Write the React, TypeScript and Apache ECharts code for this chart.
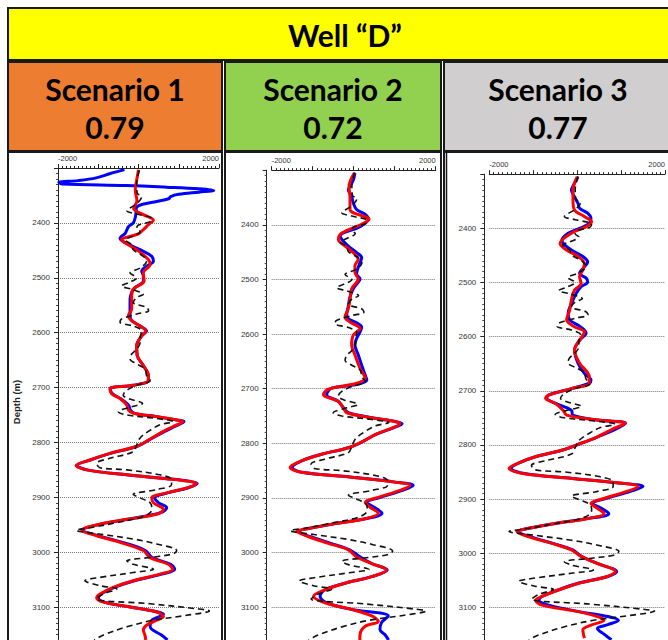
import React, { useEffect, useRef } from "react";
import * as echarts from "echarts";

// ---- Data: [depth (m), value] ----
const scenarioNames = ["Scenario 1", "Scenario 2", "Scenario 3"];
const scenarioScores = ["0.79", "0.72", "0.77"];
const xTickLabels = [-2000, 2000];
const depthLabels = [2400, 2500, 2600, 2700, 2800, 2900, 3000, 3100];

const observed: number[][] = [
  [2304, 20], [2328, -45], [2346, -30], [2352, 80], [2365, -45], [2378, -290], [2384, -45], [2392, 330],
  [2398, 290], [2404, 0], [2410, -45], [2416, 40], [2425, -170], [2431, -330], [2440, -170], [2449, -130],
  [2461, 120], [2470, 200], [2482, 40], [2491, -210], [2500, -45], [2509, -250], [2515, -420], [2521, -170],
  [2530, 120], [2536, -45], [2545, -130], [2554, 200], [2560, 250], [2566, -45], [2575, -420], [2581, -460],
  [2588, -130], [2597, 80], [2609, 40], [2618, 40], [2630, -45], [2639, -170], [2648, -210], [2657, -45],
  [2666, 160], [2678, 200], [2687, 290], [2696, -45], [2705, -290], [2714, -380], [2720, -250], [2729, 100],
  [2735, -170], [2744, -500], [2750, -290], [2756, 400], [2762, 860], [2768, 530], [2780, 245], [2792, 40],
  [2805, -45], [2817, -130], [2829, -710], [2838, -1040], [2846, -960], [2850, -290], [2859, 530], [2868, 820],
  [2877, 820], [2886, 450], [2895, -130], [2901, 40], [2910, 290], [2919, 330], [2928, 290], [2937, 40],
  [2946, -540], [2955, -1160], [2960, -1550], [2967, -960], [2976, -130], [2985, 450], [2997, 950], [3003, 860],
  [3009, 370], [3016, -290], [3022, -130], [3031, 370], [3037, -130], [3046, -960], [3052, -1330], [3061, -960],
  [3067, -540], [3076, -870], [3085, -1040], [3094, 290], [3103, 1440], [3107, 1760], [3115, 1200], [3124, 370],
  [3136, -290], [3151, -870], [3160, -1100],
];

const s1Blue: number[][] = [
  [2303, -350], [2310, -700], [2318, -1050], [2323, -1500], [2326, -1980], [2329, -1900], [2332, -300], [2335, 700],
  [2338, 1500], [2341, 1870], [2344, 1500], [2348, 1000], [2352, 800], [2356, 750], [2361, 450], [2366, 100],
  [2372, -50], [2380, -60], [2390, -80], [2400, -130], [2407, -250], [2419, -330], [2428, -460], [2434, -380],
  [2443, -130], [2452, 120], [2461, 330], [2470, 370], [2479, 200], [2488, 80], [2497, 120], [2506, 120],
  [2518, -90], [2527, -170], [2539, -210], [2551, -210], [2569, -210], [2578, -170], [2588, 40], [2597, 200],
  [2606, 80], [2624, -45], [2642, -30], [2660, 120], [2678, 245], [2687, 245], [2696, -130], [2702, -700],
  [2711, -650], [2720, -450], [2732, -250], [2741, -200], [2747, -100], [2753, 450], [2759, 950], [2762, 1130],
  [2771, 900], [2780, 650], [2792, 350], [2807, -30], [2820, -700], [2832, -1200], [2842, -1530], [2850, -1280],
  [2859, -300], [2866, 700], [2871, 1280], [2875, 1460], [2883, 1220], [2892, 720], [2901, 400], [2910, 500],
  [2919, 700], [2928, 550], [2940, -250], [2949, -950], [2960, -1380], [2970, -1000], [2982, -400], [2997, 170],
  [3010, 340], [3022, 800], [3031, 900], [3040, 580], [3052, -100], [3064, -600], [3076, -930], [3083, -1000],
  [3091, -850], [3100, -200], [3109, 480], [3113, 620], [3124, 330], [3136, 290], [3151, 570], [3160, 720],
];

const s1Red: number[][] = [
  [2303, 0], [2320, -40], [2340, -80], [2360, -40], [2374, -120], [2385, 120], [2395, 370], [2403, 250],
  [2413, 110], [2420, 0], [2431, -420], [2440, -250], [2449, -45], [2467, 250], [2476, 290], [2491, 120],
  [2506, 140], [2521, -130], [2533, -170], [2557, -170], [2569, -250], [2578, -170], [2588, 40], [2597, 180],
  [2606, 80], [2624, -45], [2642, -30], [2660, 120], [2678, 245], [2687, 245], [2696, -130], [2702, -710],
  [2711, -670], [2720, -460], [2732, -290], [2741, -250], [2747, -130], [2753, 450], [2759, 950], [2762, 1100],
  [2771, 860], [2780, 620], [2792, 330], [2807, -45], [2820, -710], [2832, -1200], [2842, -1550], [2850, -1290],
  [2859, -290], [2866, 700], [2871, 1280], [2875, 1440], [2883, 1200], [2892, 700], [2901, 330], [2910, 370],
  [2922, 620], [2931, 450], [2940, -290], [2949, -955], [2960, -1410], [2970, -1040], [2982, -460], [2997, 120],
  [3010, 285], [3022, 740], [3031, 850], [3040, 530], [3052, -130], [3064, -625], [3076, -955], [3083, -1040],
  [3091, -870], [3100, -210], [3109, 450], [3117, 620], [3124, 450], [3133, 200], [3142, 120], [3151, 160],
  [3160, 180],
];

const s2Blue: number[][] = [
  [2305, 30], [2318, -10], [2330, -90], [2336, -130], [2348, -50], [2360, -10], [2372, 70], [2381, 280],
  [2390, 360], [2399, 240], [2405, 110], [2415, -250], [2421, -330], [2430, -250], [2439, -130], [2451, 70],
  [2460, 195], [2469, 155], [2478, 110], [2490, 70], [2499, 155], [2505, 110], [2517, -10], [2532, -90],
  [2548, -130], [2566, -170], [2572, -130], [2581, 110], [2587, 195], [2596, 155], [2608, 70], [2620, 30],
  [2638, 110], [2657, 195], [2675, 280], [2684, 320], [2693, 30], [2699, -540], [2711, -660], [2723, -380],
  [2735, -250], [2744, -130], [2753, 440], [2760, 1010], [2764, 1180], [2772, 950], [2784, 530], [2796, 240],
  [2808, -130], [2820, -780], [2832, -1270], [2844, -1500], [2853, -1270], [2862, -50], [2871, 1010], [2877, 1450],
  [2887, 1150], [2899, 650], [2908, 320], [2917, 500], [2928, 690], [2938, 280], [2947, -450], [2956, -1100],
  [2961, -1350], [2971, -1050], [2983, -560], [2995, -100], [3008, 160], [3020, 440], [3032, 820], [3044, 440],
  [3056, -210], [3068, -700], [3080, -820], [3092, -650], [3104, -50], [3116, 845], [3128, 680], [3141, 640],
  [3150, 760], [3160, 850],
];

const s2Red: number[][] = [
  [2305, 15], [2330, -115], [2350, -90], [2372, -90], [2390, 375], [2399, 195], [2415, -290], [2427, -375],
  [2439, -210], [2451, -10], [2463, 110], [2475, 30], [2487, 30], [2499, 110], [2517, -50], [2535, -90],
  [2553, -130], [2569, -210], [2578, -90], [2590, 155], [2602, -10], [2620, -50], [2638, 30], [2663, 155],
  [2681, 280], [2690, 75], [2701, -620], [2711, -740], [2723, -380], [2735, -250], [2744, -170], [2753, 440],
  [2760, 1010], [2764, 1130], [2772, 930], [2784, 520], [2796, 240], [2808, -130], [2820, -780], [2832, -1270],
  [2844, -1550], [2853, -1270], [2862, -50], [2871, 1010], [2877, 1375], [2887, 1090], [2899, 600], [2908, 280],
  [2917, 400], [2928, 600], [2938, 280], [2947, -460], [2956, -1100], [2961, -1390], [2971, -1100], [2983, -620],
  [2995, -130], [3008, 70], [3020, 440], [3032, 800], [3044, 440], [3056, -210], [3068, -700], [3080, -980],
  [3092, -700], [3104, -50], [3116, 440], [3126, 600], [3135, 280], [3150, 155], [3160, 150],
];

const s3Blue: number[][] = [
  [2305, 20], [2317, -60], [2329, -130], [2342, -60], [2354, 20], [2363, 55], [2372, 240], [2382, 315],
  [2391, 280], [2400, 55], [2409, -205], [2422, -350], [2431, -280], [2440, -130], [2452, 130], [2462, 240],
  [2471, 165], [2483, 55], [2492, 205], [2499, 240], [2508, 90], [2520, -20], [2539, -130], [2557, -205],
  [2569, -170], [2579, 20], [2588, 165], [2594, 205], [2606, 55], [2625, -60], [2649, 20], [2668, 165],
  [2680, 315], [2686, 280], [2696, -130], [2708, -650], [2714, -690], [2723, -500], [2736, -130], [2745, -100],
  [2754, 460], [2760, 1100], [2770, 900], [2785, 470], [2797, 90], [2810, -350], [2822, -950], [2834, -1350],
  [2843, -1500], [2853, -1200], [2862, -100], [2870, 900], [2877, 1500], [2886, 1200], [2899, 650], [2908, 350],
  [2917, 550], [2927, 720], [2936, 250], [2945, -500], [2954, -1100], [2960, -1350], [2970, -1050], [2982, -550],
  [2994, -100], [3006, 100], [3019, 450], [3034, 900], [3043, 700], [3056, 0], [3068, -430], [3080, -800],
  [3087, -870], [3096, -650], [3108, 50], [3117, 700], [3124, 940], [3132, 700], [3139, 460], [3150, 620],
  [3160, 780],
];

const s3Red: number[][] = [
  [2305, 0], [2329, -95], [2348, -95], [2366, -60], [2378, 165], [2388, 330], [2397, 200], [2409, -130],
  [2428, -390], [2440, -240], [2452, 20], [2465, 165], [2477, 130], [2489, 55], [2502, 90], [2514, -60],
  [2532, -130], [2551, -170], [2569, -240], [2582, -60], [2591, 165], [2603, 90], [2625, -60], [2649, 55],
  [2674, 275], [2686, 275], [2696, -130], [2708, -650], [2714, -720], [2723, -500], [2736, -320], [2745, -240],
  [2754, 460], [2760, 1090], [2770, 830], [2785, 460], [2797, 90], [2810, -350], [2822, -950], [2834, -1350],
  [2843, -1550], [2853, -1240], [2862, -130], [2870, 910], [2877, 1390], [2886, 1130], [2899, 610], [2908, 315],
  [2917, 460], [2927, 610], [2936, 240], [2945, -500], [2954, -1100], [2960, -1375], [2970, -1100], [2982, -575],
  [2994, -130], [3006, 90], [3019, 460], [3034, 870], [3043, 685], [3056, 20], [3068, -430], [3080, -800],
  [3087, -945], [3096, -800], [3108, 20], [3117, 460], [3124, 610], [3133, 315], [3142, 130], [3157, 165],
];

const blueSets = [s1Blue, s2Blue, s3Blue];
const redSets = [s1Red, s2Red, s3Red];

// ---- Layout ----
const panels = [
  { x: 8, w: 214, fill: "#ED7D31" },
  { x: 225, w: 216, fill: "#92D050" },
  { x: 444, w: 240, fill: "#D0CECE" },
];
const grids = [
  { left: 58, top: 168, width: 161, height: 475.6, axisOffset: 0 },
  { left: 271.7, top: 170.2, width: 164, height: 473.9, axisOffset: 5 },
  { left: 489.3, top: 174.2, width: 180, height: 465.6, axisOffset: 5 },
];
const textCenters = [115, 333, 558];

export default function App() {
  const ref = useRef<HTMLDivElement>(null);
  useEffect(() => {
    if (!ref.current) return;
    const chart = echarts.init(ref.current, null, { renderer: "svg" });
    const toXY = (arr: number[][]) => arr.map((p) => [p[1], p[0]]);
    const headFont = { fontFamily: "Lato", fontWeight: "bold", fill: "#000" };

    const graphic: any[] = [
      { type: "rect", z: 0, shape: { x: 8, y: 8, width: 690, height: 52 }, style: { fill: "#FFFF00", stroke: "#1a1a1a", lineWidth: 2 } },
      { type: "text", z: 1, x: 345, y: 35, style: { text: "Well “D”", x: 0, y: 0, align: "center", verticalAlign: "middle", fontSize: 30, ...headFont } },
    ];
    panels.forEach((p, i) => {
      graphic.push({ type: "rect", z: 0, shape: { x: p.x, y: 62, width: p.w, height: 89 }, style: { fill: p.fill, stroke: "#1a1a1a", lineWidth: 2 } });
      graphic.push({ type: "rect", z: 0, shape: { x: p.x, y: 152, width: p.w, height: 500 }, style: { fill: "#ffffff", stroke: "#1a1a1a", lineWidth: 2 } });
      graphic.push({ type: "text", z: 1, x: textCenters[i], y: 89, style: { text: scenarioNames[i], x: 0, y: 0, align: "center", verticalAlign: "middle", fontSize: 30, ...headFont } });
      graphic.push({ type: "text", z: 1, x: textCenters[i], y: 127, style: { text: scenarioScores[i], x: 0, y: 0, align: "center", verticalAlign: "middle", fontSize: 30, ...headFont } });
    });
    graphic.push({ type: "line", z: 1, shape: { x1: 446.5, y1: 152, x2: 446.5, y2: 645 }, style: { stroke: "#1a1a1a", lineWidth: 1.5 } });
    graphic.push({ type: "text", z: 1, x: 16, y: 402, rotation: Math.PI / 2, style: { text: "Depth (m)", x: 0, y: 0, align: "center", verticalAlign: "middle", fontFamily: "Liberation Sans", fontWeight: "bold", fontSize: 9.5, fill: "#222" } });

    const xAxes = grids.map((g, i) => ({
      type: "value",
      gridIndex: i,
      position: "top",
      min: -2000,
      max: 2000,
      interval: 1000,
      axisLine: { show: true, onZero: false, lineStyle: { color: "#222", width: 1 } },
      axisTick: { show: true, length: 4, lineStyle: { color: "#222" } },
      minorTick: { show: true, splitNumber: 10, length: 2, lineStyle: { color: "#222" } },
      splitLine: { show: false },
      axisLabel: {
        show: true,
        margin: 6,
        fontSize: 7.5,
        fontFamily: "Liberation Sans",
        color: "#333",
        alignMinLabel: "left",
        alignMaxLabel: "right",
        formatter: (v: number) => (xTickLabels.includes(v) ? String(v) : ""),
      },
    }));
    const yAxes = grids.map((g, i) => ({
      type: "value",
      gridIndex: i,
      inverse: true,
      min: 2300,
      max: 3160,
      interval: 100,
      offset: g.axisOffset,
      axisLine: { show: true, onZero: false, lineStyle: { color: "#222", width: 1 } },
      axisTick: { show: true, length: 4, lineStyle: { color: "#222" } },
      minorTick: { show: true, splitNumber: 10, length: 2, lineStyle: { color: "#444" } },
      splitLine: { show: true, showMinLine: false, lineStyle: { type: "dotted", color: "#777", width: 1 } },
      axisLabel: {
        margin: 8,
        fontSize: 8,
        fontFamily: "Liberation Sans",
        color: "#333",
        formatter: (v: number) => (depthLabels.includes(v) ? String(v) : ""),
      },
    }));

    const series: any[] = [];
    grids.forEach((g, i) => {
      series.push({
        type: "line", xAxisIndex: i, yAxisIndex: i, data: toXY(blueSets[i]), showSymbol: false, smooth: 0.35,
        lineStyle: { color: "#0000FF", width: 3 }, z: 2,
      });
      series.push({
        type: "line", xAxisIndex: i, yAxisIndex: i, data: toXY(redSets[i]), showSymbol: false, smooth: 0.35,
        lineStyle: { color: "#FF0000", width: 3 }, z: 3,
      });
      series.push({
        type: "line", xAxisIndex: i, yAxisIndex: i, data: toXY(observed), showSymbol: false, smooth: 0.35,
        lineStyle: { color: "#111", width: 1.6, type: [6, 4] }, z: 4,
      });
    });

    chart.setOption({
      animation: false,
      backgroundColor: "#ffffff",
      graphic,
      grid: grids.map((g) => ({ left: g.left, top: g.top, width: g.width, height: g.height, containLabel: false })),
      xAxis: xAxes,
      yAxis: yAxes,
      series,
    });
    return () => chart.dispose();
  }, []);
  return <div ref={ref} style={{ position: "absolute", left: 0, top: 0, width: 668, height: 640 }} />;
}
